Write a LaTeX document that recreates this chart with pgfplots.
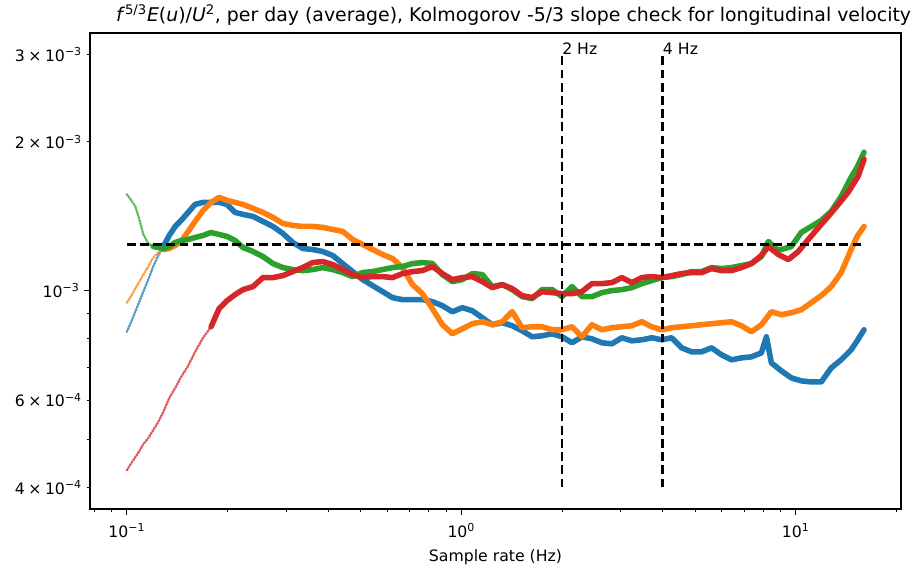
\documentclass[border=0pt]{standalone}
\usepackage{fontspec}
\setmainfont{DejaVu Sans}
\usepackage{pgfplots}
\pgfplotsset{compat=1.18}

\definecolor{tabblue}{HTML}{1F77B4}
\definecolor{taborange}{HTML}{FF7F0E}
\definecolor{tabgreen}{HTML}{2CA02C}
\definecolor{tabred}{HTML}{D62728}

\newcommand{\dec}[1]{10\textsuperscript{#1}}
\newcommand{\sci}[2]{#1\hspace{0.22em}×\hspace{0.22em}10\textsuperscript{#2}}

\pgfplotsset{
  sparse/.style={line width=1.7pt, dash pattern=on 1pt off 1.1pt, opacity=0.75, line cap=round},
  dense/.style={line width=4pt, line join=round, line cap=round},
  guide/.style={black, line width=1.9pt, dash pattern=on 6.3pt off 3.2pt},
}

\begin{document}
\begin{tikzpicture}
\begin{axis}[
  name=ax,
  xmode=log, ymode=log,
  scale only axis, width=583.9pt, height=342.7pt,
  xmin=0.0776, xmax=20.62, ymin=3.617e-4, ymax=3.318e-3,
  xtick={0.1,1,10}, xticklabels={\dec{−1},\dec{0},\dec{1}},
  minor xtick={0.08,0.09,0.2,0.3,0.4,0.5,0.6,0.7,0.8,0.9,2,3,4,5,6,7,8,9,20},
  ytick={0.001}, yticklabels={\dec{−3}},
  minor ytick={5e-4,7e-4,8e-4,9e-4},
  extra y ticks={4e-4,6e-4,2e-3,3e-3},
  extra y tick labels={\sci{4}{−4},\sci{6}{−4},\sci{2}{−3},\sci{3}{−3}},
  extra y tick style={major tick length=2.3pt, major tick style={line width=0.7pt}},
  xtick pos=left, ytick pos=left,
  tick align=outside,
  major tick length=4pt, minor tick length=2.3pt,
  major tick style={black, line width=0.9pt},
  minor tick style={black, line width=0.7pt},
  axis line style={black, line width=0.9pt},
  tick label style={font=\fontsize{11.3}{13}\selectfont},
  xticklabel style={yshift=-3pt},
  label style={font=\fontsize{11.3}{13}\selectfont},
  xlabel={Sample rate (Hz)},
  xlabel style={yshift=-2pt},
  title={\textit{f}\textsuperscript{5/3}\textit{E}(\textit{u})/\textit{U}\textsuperscript{2}, per day (average), Kolmogorov -5/3 slope check for longitudinal velocity},
  title style={font=\fontsize{13.6}{16}\selectfont, xshift=13pt, yshift=-4pt},
]

% series 1
\addplot[tabblue, sparse] coordinates {
(0.1000,0.8257e-3) (0.1031,0.8652e-3) (0.1060,0.9065e-3) (0.1090,0.9499e-3) (0.1120,0.9954e-3)
(0.1159,1.0527e-3) (0.1199,1.1186e-3) (0.1241,1.1776e-3) (0.1285,1.2281e-3)};
\addplot[tabblue, dense] coordinates {
(0.1285,1.2281e-3) (0.1339,1.2929e-3) (0.1395,1.3484e-3) (0.1453,1.3868e-3) (0.1525,1.4396e-3)
(0.1600,1.4943e-3) (0.1690,1.5083e-3) (0.1786,1.5083e-3) (0.1887,1.5083e-3) (0.1993,1.4943e-3)
(0.2106,1.4396e-3) (0.2225,1.4262e-3) (0.2383,1.4129e-3) (0.2552,1.3803e-3) (0.2733,1.3484e-3)
(0.2927,1.3051e-3) (0.3134,1.2513e-3) (0.3357,1.2167e-3) (0.3596,1.2110e-3) (0.3852,1.1998e-3)
(0.4126,1.1776e-3) (0.4418,1.1344e-3) (0.4732,1.0928e-3) (0.5069,1.0527e-3) (0.5429,1.0236e-3)
(0.5815,0.9954e-3) (0.6227,0.9679e-3) (0.6670,0.9589e-3) (0.7144,0.9589e-3) (0.7651,0.9589e-3)
(0.8194,0.9499e-3) (0.8777,0.9323e-3) (0.9401,0.9065e-3) (1.0069,0.9236e-3) (1.0784,0.9108e-3)
(1.1552,0.8815e-3) (1.2373,0.8532e-3) (1.3250,0.8612e-3) (1.4192,0.8492e-3) (1.5199,0.8296e-3)
(1.6278,0.8066e-3) (1.7435,0.8104e-3) (1.8672,0.8180e-3) (2.0000,0.8066e-3) (2.1421,0.7844e-3)
(2.2943,0.8066e-3) (2.4573,0.7991e-3) (2.6318,0.7844e-3) (2.8188,0.7807e-3) (3.0190,0.8029e-3)
(3.2336,0.7917e-3) (3.4633,0.7954e-3) (3.7093,0.8029e-3) (3.9729,0.7954e-3) (4.2553,0.8029e-3)
(4.5575,0.7663e-3) (4.8812,0.7520e-3) (5.2280,0.7520e-3) (5.5996,0.7663e-3) (5.9970,0.7416e-3)
(6.4232,0.7245e-3) (6.8797,0.7313e-3) (7.3681,0.7347e-3) (7.8917,0.7485e-3) (8.167,0.8066e-3)
(8.4524,0.7144e-3) (9.0528,0.6882e-3) (9.6963,0.6661e-3) (10.384,0.6568e-3) (11.122,0.6537e-3)
(11.913,0.6537e-3) (12.759,0.6979e-3) (13.666,0.7245e-3) (14.636,0.7591e-3) (15.251,0.7917e-3)
(16.0,0.8335e-3)};

% series 2
\addplot[taborange, sparse] coordinates {
(0.1000,0.9455e-3) (0.1031,0.9769e-3) (0.1060,1.0094e-3) (0.1090,1.0429e-3) (0.1120,1.0776e-3)
(0.1159,1.1186e-3) (0.1199,1.1666e-3) (0.1241,1.1942e-3) (0.1285,1.2110e-3)};
\addplot[taborange, dense] coordinates {
(0.1285,1.2110e-3) (0.1339,1.2167e-3) (0.1395,1.2339e-3) (0.1453,1.2571e-3) (0.1525,1.3173e-3)
(0.1600,1.3803e-3) (0.1690,1.4530e-3) (0.1786,1.5083e-3) (0.1887,1.5441e-3) (0.1993,1.5226e-3)
(0.2106,1.5083e-3) (0.2225,1.4943e-3) (0.2383,1.4666e-3) (0.2552,1.4396e-3) (0.2733,1.4064e-3)
(0.2927,1.3675e-3) (0.3134,1.3548e-3) (0.3357,1.3484e-3) (0.3596,1.3484e-3) (0.3852,1.3422e-3)
(0.4126,1.3297e-3) (0.4418,1.3173e-3) (0.4732,1.2690e-3) (0.5069,1.2396e-3) (0.5429,1.2110e-3)
(0.5815,1.1831e-3) (0.6227,1.1612e-3) (0.6670,1.1134e-3) (0.7144,1.0284e-3) (0.7651,0.9861e-3)
(0.8194,0.9193e-3) (0.8777,0.8532e-3) (0.9401,0.8180e-3) (1.0069,0.8374e-3) (1.0784,0.8572e-3)
(1.1552,0.8652e-3) (1.2373,0.8532e-3) (1.3250,0.8652e-3) (1.4192,0.9065e-3) (1.5199,0.8413e-3)
(1.6278,0.8452e-3) (1.7435,0.8452e-3) (1.8672,0.8335e-3) (2.0000,0.8335e-3) (2.1421,0.8452e-3)
(2.2943,0.8066e-3) (2.4573,0.8532e-3) (2.6318,0.8335e-3) (2.8188,0.8413e-3) (3.0190,0.8452e-3)
(3.2336,0.8492e-3) (3.4633,0.8652e-3) (3.7093,0.8452e-3) (3.9729,0.8335e-3) (4.2553,0.8413e-3)
(4.5575,0.8452e-3) (4.8812,0.8492e-3) (5.2280,0.8532e-3) (5.5996,0.8572e-3) (5.9970,0.8612e-3)
(6.4232,0.8652e-3) (6.8797,0.8492e-3) (7.3681,0.8257e-3) (7.8917,0.8532e-3) (8.4524,0.9065e-3)
(9.0528,0.8939e-3) (9.6963,0.9023e-3) (10.384,0.9151e-3) (11.122,0.9455e-3) (11.913,0.9769e-3)
(12.759,1.0189e-3) (13.666,1.0877e-3) (14.636,1.2110e-3) (15.251,1.2869e-3) (16.0,1.3484e-3)};

% series 3
\addplot[tabgreen, sparse] coordinates {
(0.1000,1.5659e-3) (0.1031,1.5226e-3) (0.1060,1.4804e-3) (0.1090,1.3933e-3) (0.1120,1.2990e-3)
(0.1159,1.2454e-3) (0.1199,1.2281e-3)};
\addplot[tabgreen, dense] coordinates {
(0.1199,1.2281e-3) (0.1241,1.2224e-3) (0.1285,1.2167e-3) (0.1339,1.2281e-3) (0.1395,1.2513e-3)
(0.1453,1.2631e-3) (0.1525,1.2690e-3) (0.1600,1.2809e-3) (0.1690,1.2929e-3) (0.1786,1.3112e-3)
(0.1887,1.2990e-3) (0.1993,1.2869e-3) (0.2106,1.2631e-3) (0.2225,1.2224e-3) (0.2383,1.1998e-3)
(0.2552,1.1721e-3) (0.2733,1.1344e-3) (0.2927,1.1134e-3) (0.3134,1.1030e-3) (0.3357,1.0979e-3)
(0.3596,1.1030e-3) (0.3852,1.1134e-3) (0.4126,1.1030e-3) (0.4418,1.0877e-3) (0.4732,1.0676e-3)
(0.5069,1.0877e-3) (0.5429,1.0928e-3) (0.5815,1.1030e-3) (0.6227,1.1134e-3) (0.6670,1.1186e-3)
(0.7144,1.1344e-3) (0.7651,1.1397e-3) (0.8194,1.1344e-3) (0.8777,1.0776e-3) (0.9401,1.0429e-3)
(1.0069,1.0527e-3) (1.0784,1.0826e-3) (1.1552,1.0776e-3) (1.2373,1.0189e-3) (1.3250,1.0284e-3)
(1.4192,1.0047e-3) (1.5199,0.9724e-3) (1.6278,0.9634e-3) (1.7435,1.0047e-3) (1.8672,1.0047e-3)
(2.0000,0.9724e-3) (2.1421,1.0189e-3) (2.2943,0.9724e-3) (2.4573,0.9724e-3) (2.6318,0.9907e-3)
(2.8188,1.0000e-3) (3.0190,1.0047e-3) (3.2336,1.0141e-3) (3.4633,1.0332e-3) (3.7093,1.0478e-3)
(3.9729,1.0626e-3) (4.2553,1.0676e-3) (4.5575,1.0776e-3) (4.8812,1.0928e-3) (5.2280,1.0928e-3)
(5.5996,1.1134e-3) (5.9970,1.1082e-3) (6.4232,1.1134e-3) (6.8797,1.1238e-3) (7.3681,1.1344e-3)
(7.8917,1.1721e-3) (8.280,1.2571e-3) (8.748,1.2110e-3) (9.0528,1.2110e-3) (9.6963,1.2281e-3)
(10.384,1.3112e-3) (11.122,1.3484e-3) (11.913,1.3868e-3) (12.759,1.4463e-3) (13.666,1.5513e-3)
(14.636,1.6952e-3) (15.251,1.7762e-3) (16.0,1.9052e-3)};

% series 4
\addplot[tabred, sparse] coordinates {
(0.1000,0.4334e-3) (0.1031,0.4478e-3) (0.1060,0.4605e-3) (0.1090,0.4736e-3) (0.1120,0.4893e-3)
(0.1159,0.5032e-3) (0.1199,0.5224e-3) (0.1241,0.5423e-3) (0.1285,0.5682e-3) (0.1339,0.6066e-3)
(0.1395,0.6356e-3) (0.1453,0.6692e-3) (0.1525,0.7045e-3) (0.1600,0.7520e-3) (0.1690,0.8029e-3)
(0.1786,0.8452e-3)};
\addplot[tabred, dense] coordinates {
(0.1786,0.8452e-3) (0.1887,0.9193e-3) (0.1993,0.9544e-3) (0.2106,0.9815e-3) (0.2225,1.0047e-3)
(0.2383,1.0189e-3) (0.2552,1.0626e-3) (0.2733,1.0626e-3) (0.2927,1.0725e-3) (0.3134,1.0928e-3)
(0.3357,1.1134e-3) (0.3596,1.1397e-3) (0.3852,1.1450e-3) (0.4126,1.1291e-3) (0.4418,1.1030e-3)
(0.4732,1.0776e-3) (0.5069,1.0626e-3) (0.5429,1.0676e-3) (0.5815,1.0676e-3) (0.6227,1.0626e-3)
(0.6670,1.0826e-3) (0.7144,1.0928e-3) (0.7651,1.0979e-3) (0.8194,1.1186e-3) (0.8777,1.0826e-3)
(0.9401,1.0527e-3) (1.0069,1.0626e-3) (1.0784,1.0676e-3) (1.1552,1.0429e-3) (1.2373,1.0141e-3)
(1.3250,1.0284e-3) (1.4192,1.0094e-3) (1.5199,0.9769e-3) (1.6278,0.9679e-3) (1.7435,0.9954e-3)
(1.8672,0.9907e-3) (2.0000,0.9861e-3) (2.1421,0.9861e-3) (2.2943,0.9954e-3) (2.4573,1.0332e-3)
(2.6318,1.0332e-3) (2.8188,1.0381e-3) (3.0190,1.0626e-3) (3.2336,1.0381e-3) (3.4633,1.0626e-3)
(3.7093,1.0676e-3) (3.9729,1.0626e-3) (4.2553,1.0725e-3) (4.5575,1.0826e-3) (4.8812,1.0877e-3)
(5.2280,1.0877e-3) (5.5996,1.1082e-3) (5.9970,1.0979e-3) (6.4232,1.0979e-3) (6.8797,1.1134e-3)
(7.3681,1.1344e-3) (7.8917,1.1776e-3) (8.280,1.2281e-3) (8.869,1.1831e-3) (9.499,1.1558e-3)
(10.173,1.1998e-3) (10.896,1.2690e-3) (11.913,1.3611e-3) (13.024,1.4598e-3) (14.338,1.5806e-3)
(15.356,1.7031e-3) (16.0,1.8439e-3)};

% reference levels
\addplot[guide] coordinates {(0.1,1.24e-3) (16,1.24e-3)};
\addplot[guide] coordinates {(2,4e-4) (2,3e-3)};
\addplot[guide] coordinates {(4,4e-4) (4,3e-3)};

\node[anchor=base west, inner sep=0pt, font=\fontsize{11.3}{13}\selectfont] at (axis cs:2,3e-3) {2 Hz};
\node[anchor=base west, inner sep=0pt, font=\fontsize{11.3}{13}\selectfont] at (axis cs:4,3e-3) {4 Hz};
\end{axis}
\pgfresetboundingbox
\path[use as bounding box] ([shift={(-64.8pt,-44.6pt)}]ax.south west) rectangle ([shift={(13pt,23.8pt)}]ax.north east);
\end{tikzpicture}
\end{document}
